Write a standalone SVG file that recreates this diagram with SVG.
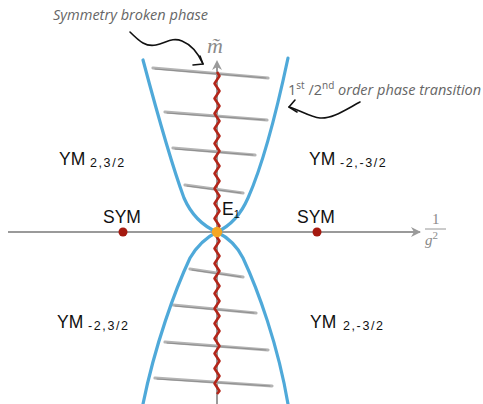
<svg xmlns="http://www.w3.org/2000/svg" width="483" height="404" viewBox="0 0 483 404">
<style>
.axis{stroke:#9a9a9a;stroke-width:2;fill:none}
.blue{stroke:#4fa9d9;stroke-width:3.2;fill:none;stroke-linecap:round}
.rung{stroke:#b4b4b4;stroke-width:3.2;stroke-linecap:round}
.rung2{stroke:#8e8e8e;stroke-width:1;stroke-linecap:round}
.zig{stroke:#b3261a;stroke-width:2.6;fill:none;stroke-linejoin:round}
.arr{stroke:#111;stroke-width:1.6;fill:none;stroke-linecap:round;stroke-linejoin:round}
.note{font-family:"Open Sans","DejaVu Sans",sans-serif;font-style:italic;fill:#666;font-size:14.5px}
.lab{font-family:"Liberation Sans",Arial,sans-serif;fill:#111;font-size:17.5px}
.sub{font-family:"Liberation Sans",Arial,sans-serif;fill:#111;font-size:12.5px;letter-spacing:1.6px}
.math{font-family:"Liberation Serif","Times New Roman",serif;fill:#8a8a8a}
</style>
<g id="connectors">
  <line class="axis" x1="8" y1="232" x2="420" y2="232"/>
  <path d="M411,227 L421,232 L411,237 L414,232 Z" fill="#9a9a9a"/>
  <line class="axis" x1="217" y1="404" x2="217" y2="64"/>
  <path d="M212,70 L217,60 L222,70 L217,67 Z" fill="#9a9a9a"/>
  <path class="arr" d="M130,32 C140,42 146,47 156,45 C166,43 172,37 182,41 C192,45 199,55 203,64"/>
  <path class="arr" d="M193,65 L203,64 L200,56"/>
  <path class="arr" d="M360,102 C345,110 332,119 320,118 C310,117 300,110 289,107"/>
  <path class="arr" d="M295,100 L289,107 L297,112"/>
</g>
<g id="rungs">
  <line class="rung" x1="153" y1="68" x2="268" y2="78"/><line class="rung2" x1="155" y1="69" x2="266" y2="78"/>
  <line class="rung" x1="165" y1="112" x2="267" y2="120"/><line class="rung2" x1="167" y1="113" x2="265" y2="120"/>
  <line class="rung" x1="173" y1="148" x2="255" y2="155"/><line class="rung2" x1="175" y1="149" x2="253" y2="155"/>
  <line class="rung" x1="185" y1="185" x2="243" y2="193"/><line class="rung2" x1="187" y1="186" x2="241" y2="193"/>
  <line class="rung" x1="190" y1="269" x2="243" y2="277"/><line class="rung2" x1="192" y1="270" x2="241" y2="277"/>
  <line class="rung" x1="173" y1="305" x2="256" y2="313"/><line class="rung2" x1="175" y1="306" x2="254" y2="313"/>
  <line class="rung" x1="165" y1="342" x2="268" y2="350"/><line class="rung2" x1="167" y1="343" x2="266" y2="350"/>
  <line class="rung" x1="155" y1="378" x2="272" y2="386"/><line class="rung2" x1="157" y1="379" x2="270" y2="386"/>
</g>
<g id="transition-lines">
  <path class="blue" d="M143,60 C155,105 170,160 184,198 C191,214 203,226 217,232"/>
  <path class="blue" d="M288,58 C278,105 265,160 248,198 C241,214 230,226 217,232"/>
  <path class="blue" d="M217,232 C205,238 197,246 190,258 C175,290 155,345 143,404"/>
  <path class="blue" d="M217,232 C229,238 237,246 243,258 C258,290 278,345 288,404"/>
</g>
<g id="broken-line">
  <path class="zig" d="M217,72 l2.5,4 l-5,7.5 5,7.5 -5,7.5 5,7.5 -5,7.5 5,7.5 -5,7.5 5,7.5 -5,7.5 5,7.5 -5,7.5 5,7.5 -5,7.5 5,7.5 -5,7.5 5,7.5 -5,7.5 5,7.5 -5,7.5 5,7.5 -5,7.5 5,7.5 -5,7.5 5,7.5 -5,7.5 5,7.5 -5,7.5 5,7.5 -5,7.5 5,7.5 -5,7.5 5,7.5 -5,7.5 5,7.5 -5,7.5 5,7.5 -5,7.5 5,7.5 -5,7.5 5,7.5 -5,7.5 5,7.5 l-2.5,3"/>
</g>
<g id="sym-left">
  <circle cx="123" cy="232" r="4.5" fill="#a5190f"/>
  <text class="lab" x="103" y="223">SYM</text>
</g>
<g id="sym-right">
  <circle cx="317" cy="232" r="4.5" fill="#a5190f"/>
  <text class="lab" x="297" y="223">SYM</text>
</g>
<g id="E1">
  <circle cx="217" cy="232" r="5.2" fill="#f5a623"/>
  <text class="lab" x="222" y="215">E<tspan font-size="11" dy="3">1</tspan></text>
</g>
<g id="ym-ul"><text class="lab" x="59" y="165">YM<tspan class="sub" x="90" y="167">2,3/2</tspan></text></g>
<g id="ym-ur"><text class="lab" x="309" y="165">YM<tspan class="sub" x="340" y="167">-2,-3/2</tspan></text></g>
<g id="ym-ll"><text class="lab" x="57" y="328">YM<tspan class="sub" x="88" y="330">-2,3/2</tspan></text></g>
<g id="ym-lr"><text class="lab" x="310" y="328">YM<tspan class="sub" x="343" y="330">2,-3/2</tspan></text></g>
<g id="labels">
  <text class="note" x="53" y="20" textLength="155" lengthAdjust="spacingAndGlyphs">Symmetry broken phase</text>
  <text class="note" x="288" y="95"><tspan font-style="normal">1</tspan><tspan font-style="normal" font-size="10" dy="-6">st</tspan><tspan font-style="normal" dy="6"> /2</tspan><tspan font-style="normal" font-size="10" dy="-6">nd</tspan><tspan dy="6"> order phase transition</tspan></text>
  <text class="math" x="207" y="53" font-size="22" font-style="italic">m&#x303;</text>
  <text class="math" x="432" y="224" font-size="15">1</text>
  <line x1="425" y1="229" x2="446" y2="229" stroke="#8a8a8a" stroke-width="0.9"/>
  <text class="math" x="425" y="245" font-size="15" font-style="italic">g<tspan font-size="11" font-style="normal" dy="-6">2</tspan></text>
</g>
</svg>
